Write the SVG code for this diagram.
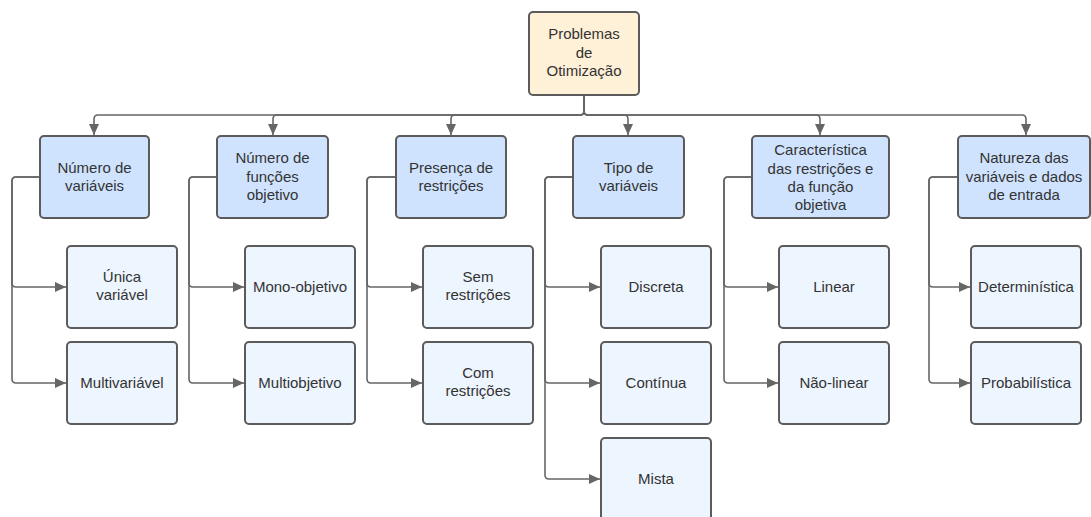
<svg xmlns="http://www.w3.org/2000/svg" width="1091" height="517" viewBox="0 0 1091 517">
<style>
.box{stroke:#5b5b5b;stroke-width:2}
.root{fill:#fff0d8}
.cat{fill:#cfe3ff}
.leaf{fill:#edf5ff}
text{font-family:"Liberation Sans",Arial,sans-serif;font-size:15px;fill:#333;text-anchor:middle}
.conn path{fill:none;stroke:#666;stroke-width:1.6}
</style>
<defs>
<marker id="arr" markerUnits="userSpaceOnUse" markerWidth="12" markerHeight="12" refX="11" refY="5" orient="auto">
<path d="M0,0 L11,5 L0,10 Z" fill="#666"/>
</marker>
</defs>
<rect width="1091" height="517" fill="#fff"/>
<g class="conn">
<path d="M584,95 V111 Q584,115 580,115 H98 Q94,115 94,119 V135" marker-end="url(#arr)"/>
<path d="M584,95 V111 Q584,115 580,115 H277 Q273,115 273,119 V135" marker-end="url(#arr)"/>
<path d="M584,95 V111 Q584,115 580,115 H455 Q451,115 451,119 V135" marker-end="url(#arr)"/>
<path d="M584,95 V111 Q584,115 588,115 H624 Q628,115 628,119 V135" marker-end="url(#arr)"/>
<path d="M584,95 V111 Q584,115 588,115 H816 Q820,115 820,119 V135" marker-end="url(#arr)"/>
<path d="M584,95 V111 Q584,115 588,115 H1022 Q1026,115 1026,119 V135" marker-end="url(#arr)"/>
<path d="M40,177 H16 Q12,177 12,181 V283 Q12,287 16,287 H66" marker-end="url(#arr)"/>
<path d="M40,177 H16 Q12,177 12,181 V379 Q12,383 16,383 H66" marker-end="url(#arr)"/>
<path d="M217,177 H193 Q189,177 189,181 V283 Q189,287 193,287 H244" marker-end="url(#arr)"/>
<path d="M217,177 H193 Q189,177 189,181 V379 Q189,383 193,383 H244" marker-end="url(#arr)"/>
<path d="M396,177 H371 Q367,177 367,181 V283 Q367,287 371,287 H422" marker-end="url(#arr)"/>
<path d="M396,177 H371 Q367,177 367,181 V379 Q367,383 371,383 H422" marker-end="url(#arr)"/>
<path d="M573,177 H549 Q545,177 545,181 V283 Q545,287 549,287 H600" marker-end="url(#arr)"/>
<path d="M573,177 H549 Q545,177 545,181 V379 Q545,383 549,383 H600" marker-end="url(#arr)"/>
<path d="M573,177 H549 Q545,177 545,181 V475 Q545,479 549,479 H600" marker-end="url(#arr)"/>
<path d="M752,177 H728 Q724,177 724,181 V283 Q724,287 728,287 H778" marker-end="url(#arr)"/>
<path d="M752,177 H728 Q724,177 724,181 V379 Q724,383 728,383 H778" marker-end="url(#arr)"/>
<path d="M958,177 H933 Q929,177 929,181 V283 Q929,287 933,287 H970" marker-end="url(#arr)"/>
<path d="M958,177 H933 Q929,177 929,181 V379 Q929,383 933,383 H970" marker-end="url(#arr)"/>
</g>
<g id="root"><rect class="box root" x="529" y="12" width="110" height="83" rx="4"/><text x="584" y="39">Problemas</text><text x="584" y="57.5">de</text><text x="584" y="76">Otimização</text></g>
<g id="cat1"><rect class="box cat" x="40" y="136" width="109" height="82" rx="4"/><text x="94.5" y="173">Número de</text><text x="94.5" y="191">variáveis</text></g>
<g id="cat2"><rect class="box cat" x="217" y="136" width="111" height="82" rx="4"/><text x="272.5" y="163">Número de</text><text x="272.5" y="181.5">funções</text><text x="272.5" y="200">objetivo</text></g>
<g id="cat3"><rect class="box cat" x="396" y="136" width="110" height="82" rx="4"/><text x="451" y="173">Presença de</text><text x="451" y="191">restrições</text></g>
<g id="cat4"><rect class="box cat" x="573" y="136" width="111" height="82" rx="4"/><text x="628.5" y="173">Tipo de</text><text x="628.5" y="191">variáveis</text></g>
<g id="cat5"><rect class="box cat" x="752" y="136" width="137" height="82" rx="4"/><text x="820.5" y="155">Característica</text><text x="820.5" y="173.5">das restrições e</text><text x="820.5" y="192">da função</text><text x="820.5" y="210">objetiva</text></g>
<g id="cat6"><rect class="box cat" x="958" y="136" width="132" height="82" rx="4"/><text x="1024" y="163">Natureza das</text><text x="1024" y="181.5">variáveis e dados</text><text x="1024" y="200">de entrada</text></g>
<g id="unica"><rect class="box leaf" x="67" y="246" width="110" height="82" rx="4"/><text x="122" y="282">Única</text><text x="122" y="300">variável</text></g>
<g id="multivar"><rect class="box leaf" x="67" y="342" width="110" height="82" rx="4"/><text x="122" y="388">Multivariável</text></g>
<g id="mono"><rect class="box leaf" x="245" y="246" width="110" height="82" rx="4"/><text x="300" y="292">Mono-objetivo</text></g>
<g id="multiobj"><rect class="box leaf" x="245" y="342" width="110" height="82" rx="4"/><text x="300" y="388">Multiobjetivo</text></g>
<g id="sem"><rect class="box leaf" x="423" y="246" width="110" height="82" rx="4"/><text x="478" y="282">Sem</text><text x="478" y="300">restrições</text></g>
<g id="com"><rect class="box leaf" x="423" y="342" width="110" height="82" rx="4"/><text x="478" y="378">Com</text><text x="478" y="396">restrições</text></g>
<g id="discreta"><rect class="box leaf" x="601" y="246" width="110" height="82" rx="4"/><text x="656" y="292">Discreta</text></g>
<g id="continua"><rect class="box leaf" x="601" y="342" width="110" height="82" rx="4"/><text x="656" y="388">Contínua</text></g>
<g id="mista"><rect class="box leaf" x="601" y="438" width="110" height="82" rx="4"/><text x="656" y="484">Mista</text></g>
<g id="linear"><rect class="box leaf" x="779" y="246" width="110" height="82" rx="4"/><text x="834" y="292">Linear</text></g>
<g id="naolinear"><rect class="box leaf" x="779" y="342" width="110" height="82" rx="4"/><text x="834" y="388">Não-linear</text></g>
<g id="determ"><rect class="box leaf" x="971" y="246" width="110" height="82" rx="4"/><text x="1026" y="292">Determinística</text></g>
<g id="prob"><rect class="box leaf" x="971" y="342" width="110" height="82" rx="4"/><text x="1026" y="388">Probabilística</text></g>
</svg>
